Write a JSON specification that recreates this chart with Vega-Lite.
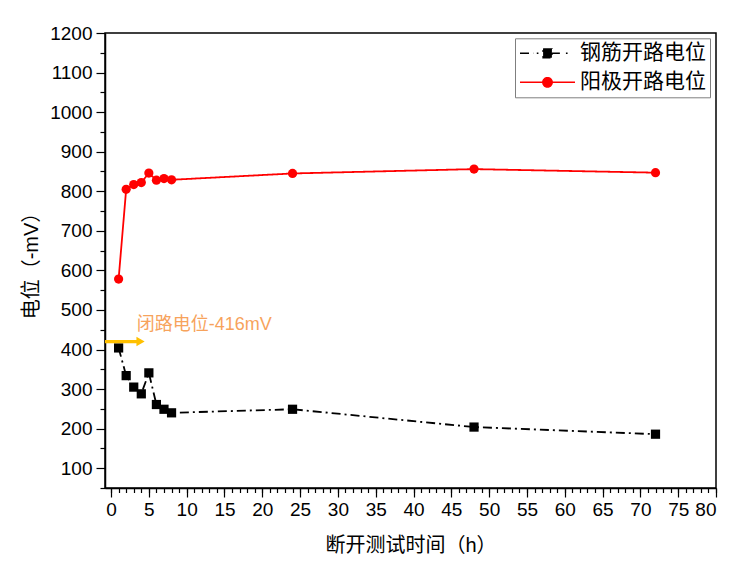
{
  "$schema": "https://vega.github.io/schema/vega-lite/v6.json",
  "width": 611,
  "height": 455,
  "autosize": {"type": "none"},
  "padding": {"left": 105, "top": 33, "right": 36, "bottom": 76},
  "background": "white",
  "config": {
    "font": "Liberation Sans, Noto Sans CJK SC",
    "view": {"stroke": "black", "strokeWidth": 1.5},
    "axis": {
      "grid": false,
      "domainColor": "black",
      "domainWidth": 1.5,
      "tickColor": "black",
      "tickWidth": 1.2,
      "labelColor": "black",
      "titleColor": "black",
      "labelFont": "Liberation Sans",
      "labelFontSize": 19,
      "titleFont": "Liberation Sans, Noto Sans CJK SC",
      "titleFontSize": 20,
      "titleFontWeight": "normal"
    }
  },
  "datasets": {
    "main": [
      {"t": 1, "v": 404, "series": "钢筋开路电位"},
      {"t": 2, "v": 334, "series": "钢筋开路电位"},
      {"t": 3, "v": 305, "series": "钢筋开路电位"},
      {"t": 4, "v": 288, "series": "钢筋开路电位"},
      {"t": 5, "v": 341, "series": "钢筋开路电位"},
      {"t": 6, "v": 261, "series": "钢筋开路电位"},
      {"t": 7, "v": 249, "series": "钢筋开路电位"},
      {"t": 8, "v": 240, "series": "钢筋开路电位"},
      {"t": 24, "v": 249, "series": "钢筋开路电位"},
      {"t": 48, "v": 204, "series": "钢筋开路电位"},
      {"t": 72, "v": 186, "series": "钢筋开路电位"},
      {"t": 1, "v": 578, "series": "阳极开路电位"},
      {"t": 2, "v": 805, "series": "阳极开路电位"},
      {"t": 3, "v": 817, "series": "阳极开路电位"},
      {"t": 4, "v": 822, "series": "阳极开路电位"},
      {"t": 5, "v": 846, "series": "阳极开路电位"},
      {"t": 6, "v": 828, "series": "阳极开路电位"},
      {"t": 7, "v": 832, "series": "阳极开路电位"},
      {"t": 8, "v": 829, "series": "阳极开路电位"},
      {"t": 24, "v": 845, "series": "阳极开路电位"},
      {"t": 48, "v": 856, "series": "阳极开路电位"},
      {"t": 72, "v": 847, "series": "阳极开路电位"}
    ],
    "arrow": [
      {"t0": -0.8, "t1": 3.9, "v": 420, "label": "闭路电位-416mV", "tl": 3.4, "vl": 449}
    ]
  },
  "resolve": {"axis": {"x": "independent", "y": "independent"}},
  "layer": [
    {
      "data": {"name": "main"},
      "mark": {"type": "line", "strokeWidth": 1.8},
      "encoding": {
        "x": {
          "field": "t", "type": "quantitative",
          "scale": {"domain": [-0.8, 80], "nice": false, "zero": false},
          "axis": {"orient": "bottom", "values": [0,1,2,3,4,5,6,7,8,9,10,11,12,13,14,15,16,17,18,19,20,21,22,23,24,25,26,27,28,29,30,31,32,33,34,35,36,37,38,39,40,41,42,43,44,45,46,47,48,49,50,51,52,53,54,55,56,57,58,59,60,61,62,63,64,65,66,67,68,69,70,71,72,73,74,75,76,77,78,79,80], "tickSize": 4.5, "labels": false, "domain": false, "title": null}
        },
        "y": {
          "field": "v", "type": "quantitative",
          "scale": {"domain": [50, 1200], "nice": false, "zero": false},
          "axis": {"orient": "left", "values": [50,150,250,350,450,550,650,750,850,950,1050,1150], "tickSize": 5, "labels": false, "domain": false, "title": null}
        },
        "color": {
          "field": "series", "type": "nominal",
          "scale": {"domain": ["钢筋开路电位", "阳极开路电位"], "range": ["black", "#ff0000"]},
          "legend": {
            "title": null,
            "orient": "none",
            "legendX": 410,
            "legendY": 5.3,
            "padding": 4,
            "strokeColor": "#7f7f7f",
            "fillColor": "white",
            "clipHeight": 22,
            "rowPadding": 7,
            "symbolSize": 3025,
            "symbolStrokeWidth": 1.5,
            "labelFont": "Noto Sans CJK SC",
            "labelFontSize": 21,
            "labelColor": "black",
            "labelOffset": 4,
            "encode": {
              "symbols": {
                "update": {
                  "shape": {"signal": "datum.value === '钢筋开路电位' ? 'M-1,0H-0.52M-0.39,0H-0.33M0.16,0H0.45M0.67,0H0.73M-0.16,-0.16H0.16V0.16H-0.16Z' : 'M-1,0H1M-0.17,0A0.17,0.17 0 1,1 0.17,0A0.17,0.17 0 1,1 -0.17,0Z'"},
                  "strokeDash": {"value": [1, 0]},
                  "size": {"value": 3025},
                  "opacity": {"value": 1}
                }
              }
            }
          }
        },
        "strokeDash": {
          "field": "series", "type": "nominal",
          "scale": {"domain": ["钢筋开路电位", "阳极开路电位"], "range": [[9, 4, 2, 4], [1, 0]]},
          "legend": null
        }
      }
    },
    {
      "data": {"name": "main"},
      "mark": {"type": "point", "filled": true, "opacity": 1, "size": 85},
      "encoding": {
        "x": {
          "field": "t", "type": "quantitative",
          "scale": {"domain": [-0.8, 80], "nice": false, "zero": false},
          "axis": {"orient": "bottom", "values": [0,5,10,15,20,25,30,35,40,45,50,55,60,65,70,75,80], "tickSize": 9, "labelPadding": 3, "title": "断开测试时间（h）", "titlePadding": 16}
        },
        "y": {
          "field": "v", "type": "quantitative",
          "scale": {"domain": [50, 1200], "nice": false, "zero": false},
          "axis": {"orient": "left", "format": "d", "values": [100,200,300,400,500,600,700,800,900,1000,1100,1200], "tickSize": 9, "labelPadding": 4, "title": "电位（-mV）", "titlePadding": 8}
        },
        "color": {
          "field": "series", "type": "nominal",
          "scale": {"domain": ["钢筋开路电位", "阳极开路电位"], "range": ["black", "#ff0000"]},
          "legend": {
            "title": null,
            "orient": "none",
            "legendX": 410,
            "legendY": 5.3,
            "padding": 4,
            "strokeColor": "#7f7f7f",
            "fillColor": "white",
            "clipHeight": 22,
            "rowPadding": 7,
            "symbolSize": 3025,
            "symbolStrokeWidth": 1.5,
            "labelFont": "Noto Sans CJK SC",
            "labelFontSize": 21,
            "labelColor": "black",
            "labelOffset": 4,
            "encode": {
              "symbols": {
                "update": {
                  "shape": {"signal": "datum.value === '钢筋开路电位' ? 'M-1,0H-0.52M-0.39,0H-0.33M0.16,0H0.45M0.67,0H0.73M-0.16,-0.16H0.16V0.16H-0.16Z' : 'M-1,0H1M-0.17,0A0.17,0.17 0 1,1 0.17,0A0.17,0.17 0 1,1 -0.17,0Z'"},
                  "strokeDash": {"value": [1, 0]},
                  "size": {"value": 3025},
                  "opacity": {"value": 1}
                }
              }
            }
          }
        },
        "shape": {
          "condition": {"test": "datum.series === '钢筋开路电位'", "value": "square"},
          "value": "circle"
        }
      }
    },
    {
      "data": {"name": "arrow"},
      "mark": {"type": "rule", "color": "#FFC000", "strokeWidth": 3.2},
      "encoding": {
        "x": {"field": "t0", "type": "quantitative", "axis": null},
        "x2": {"field": "t1"},
        "y": {"field": "v", "type": "quantitative", "axis": null}
      }
    },
    {
      "data": {"name": "arrow"},
      "mark": {"type": "point", "shape": "triangle-right", "filled": true, "color": "#FFC000", "opacity": 1, "size": 90},
      "encoding": {
        "x": {"field": "t1", "type": "quantitative", "axis": null},
        "y": {"field": "v", "type": "quantitative", "axis": null}
      }
    },
    {
      "data": {"name": "arrow"},
      "mark": {"type": "text", "align": "left", "baseline": "alphabetic", "fontSize": 18, "color": "#F7A35C", "font": "Liberation Sans, Noto Sans CJK SC"},
      "encoding": {
        "x": {"field": "tl", "type": "quantitative", "axis": null},
        "y": {"field": "vl", "type": "quantitative", "axis": null},
        "text": {"field": "label"}
      }
    }
  ]
}
